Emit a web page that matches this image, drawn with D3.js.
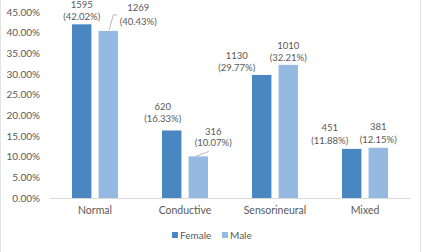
<!DOCTYPE html>
<html><head><meta charset="utf-8">
<script src="https://cdn.jsdelivr.net/npm/d3@7"></script>
<style>
html,body{margin:0;padding:0;background:#fff;}
svg{display:block;}
text{font-family:Lato,"Open Sans",sans-serif;fill:#595959;}
</style></head>
<body><svg id="c" width="423" height="252"></svg>
<script>
const categories = ["Normal","Conductive","Sensorineural","Mixed"];
const seriesNames = ["Female","Male"];
const femaleCounts = [1595, 620, 1130, 451];
const femalePct = [42.02, 16.33, 29.77, 11.88];
const maleCounts = [1269, 316, 1010, 381];
const malePct = [40.43, 10.07, 32.21, 12.15];
const yTicks = [0,5,10,15,20,25,30,35,40,45];
const colors = ["#4a86bf","#95b9e0"];

// label placement tweaks: [dx, dy, line gap, leader]
const labelTweak = {
  Female: [[0,0,12,null],[-9,-5,12,null],[-25,0,12,null],[-22,-1,13,null]],
  Male:   [[30,-2,14,"elbow"],[15,-6,11,"straight"],[0,0,12,null],[0,-1,13,null]]
};

const svg = d3.select("#c");
svg.append("rect").attr("x",0.5).attr("y",-1).attr("width",420).attr("height",260)
  .attr("fill","none").attr("stroke","#e3e3e3");

const y = d3.scaleLinear().domain([0,45]).range([198,12]);
const x = d3.scaleBand().domain(categories).range([50,410]);
const xs = d3.scaleBand().domain(seriesNames).range([22,68]).paddingInner(0.27);

svg.append("line").attr("x1",50).attr("x2",410).attr("y1",y(0)+0.5).attr("y2",y(0)+0.5)
  .attr("stroke","#d9d9d9").attr("stroke-width",1);

const yAxis = d3.axisLeft(y).tickValues(yTicks).tickSize(0).tickPadding(0)
  .tickFormat(d => d.toFixed(2) + "%");
const ga = svg.append("g").attr("transform","translate(40,0)").call(yAxis);
ga.select(".domain").remove();
ga.selectAll("text").style("font-size","10px").style("fill","#595959")
  .style("font-family","Lato, sans-serif");

const xAxis = d3.axisBottom(x).tickSize(0).tickPadding(0);
const gx = svg.append("g").attr("transform","translate(0,207)").call(xAxis);
gx.select(".domain").remove();
gx.selectAll("text").style("font-size","10.5px").style("fill","#595959")
  .style("font-family","Lato, sans-serif");

const series = [
  {name:"Female", counts:femaleCounts, pct:femalePct, color:colors[0]},
  {name:"Male", counts:maleCounts, pct:malePct, color:colors[1]}
];

series.forEach(s => {
  categories.forEach((c,i) => {
    const bx = x(c) + xs(s.name);
    const bw = xs.bandwidth();
    const bc = bx + bw/2;
    const top = y(s.pct[i]);
    svg.append("rect").attr("x",bx).attr("y",top).attr("width",bw)
      .attr("height",y(0)-top).attr("fill",s.color);
    const [dx,dy,gap,leader] = labelTweak[s.name][i];
    const cx = bc + dx;
    const base = top - 4 + dy;
    const t = svg.append("text").attr("text-anchor","middle").style("font-size","9.5px");
    t.append("tspan").attr("x",cx).attr("y",base-gap).text(s.counts[i]);
    t.append("tspan").attr("x",cx).attr("y",base).text("(" + s.pct[i].toFixed(2) + "%)");
    if (leader === "elbow") {
      svg.append("polyline")
        .attr("points", `${bc+1},${top-1} ${bc+5},${top-16} ${bc+9},${top-16}`)
        .attr("fill","none").attr("stroke","#a6a6a6").attr("stroke-width",0.8);
    } else if (leader === "straight") {
      svg.append("polyline")
        .attr("points", `${bc-2.5},${top} ${bc+10.5},${top-5}`)
        .attr("fill","none").attr("stroke","#a6a6a6").attr("stroke-width",0.8);
    }
  });
});

const leg = svg.append("g").attr("transform","translate(172,235)");
series.forEach((s,k) => {
  const g = leg.append("g").attr("transform",`translate(${k*50},0)`);
  g.append("rect").attr("x",0).attr("y",-3).attr("width",6).attr("height",6).attr("fill",s.color);
  g.append("text").attr("x",8).attr("y",3.5).style("font-size","10px").text(s.name);
});
</script></body></html>
